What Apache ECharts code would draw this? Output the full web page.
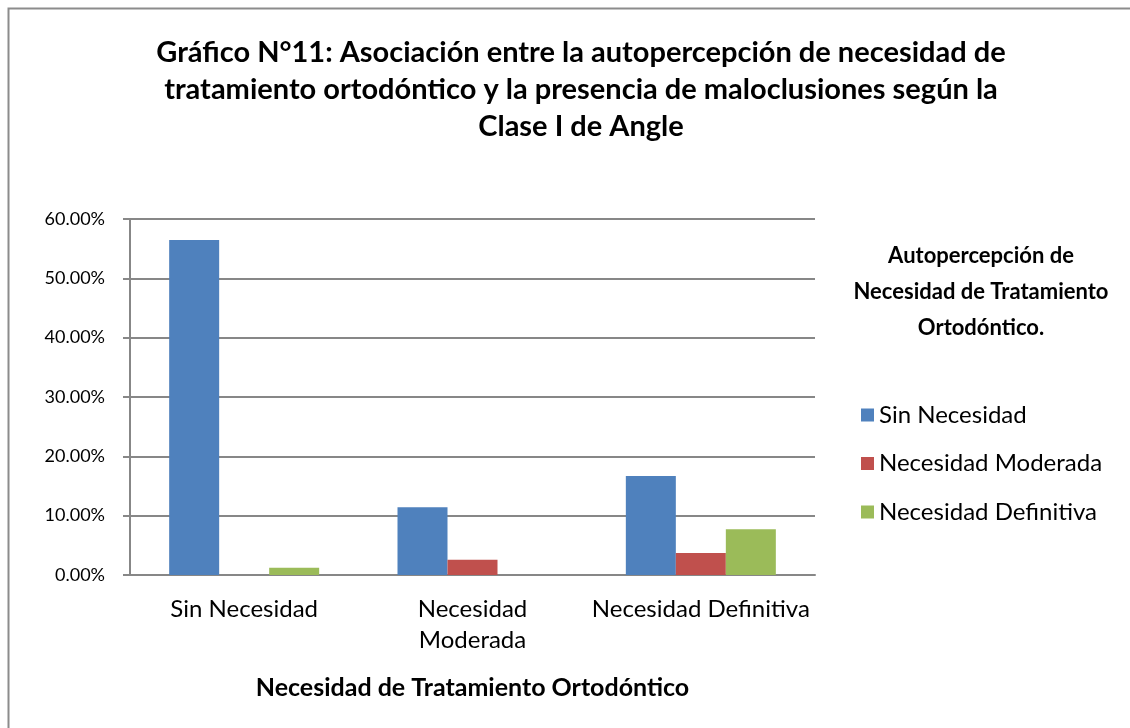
<!DOCTYPE html>
<html>
<head>
<meta charset="utf-8">
<script src="https://cdn.jsdelivr.net/npm/echarts@6/dist/echarts.min.js"></script>
<style>
  html, body { margin: 0; padding: 0; background: #fff; }
  #chart { width: 1130px; height: 728px; }
</style>
</head>
<body>
<div id="chart"></div>
<script>
  // categorias del eje x
  var categorias = ['Sin Necesidad', 'Necesidad Moderada', 'Necesidad Definitiva'];
  // series (autopercepcion)
  var sinNecesidad = [0.5646, 0.1142, 0.1670];
  var necModerada = [0, 0.0255, 0.0372];
  var necDefinitiva = [0.0123, 0, 0.0770];
  var yTicks = [0, 0.1, 0.2, 0.3, 0.4, 0.5, 0.6];

  var fuente = 'Lato';
  var gris = '#878787';

  var chart = echarts.init(document.getElementById('chart'));

  function barra(nombre, datos, color) {
    return {
      name: nombre,
      type: 'bar',
      data: datos,
      barWidth: 50,
      barGap: '0%',
      itemStyle: { color: color },
      animation: false
    };
  }

  chart.setOption({
    backgroundColor: '#fff',
    textStyle: { fontFamily: fuente },
    title: [{
      text: 'Gráfico N°11: Asociación entre la autopercepción de necesidad de\ntratamiento ortodóntico y la presencia de maloclusiones según la\nClase I de Angle',
      left: 576,
      top: 29,
      textAlign: 'center',
      textStyle: { fontFamily: fuente, fontWeight: 'bold', fontSize: 29, lineHeight: 37, color: '#000' }
    }, {
      text: 'Autopercepción de\nNecesidad de Tratamiento\nOrtodóntico.',
      left: 976,
      top: 233,
      textAlign: 'center',
      textStyle: { fontFamily: fuente, fontWeight: 'bold', fontSize: 22, lineHeight: 36, color: '#000' }
    }],
    graphic: [{
      type: 'rect',
      shape: { x: 8.5, y: 8.5, width: 1140, height: 740 },
      style: { fill: 'none', stroke: '#8c8c8c', lineWidth: 2 },
      silent: true
    }],
    legend: {
      orient: 'vertical',
      left: 856,
      top: 398,
      itemWidth: 13,
      itemHeight: 13,
      itemGap: 24.5,
      icon: 'rect',
      textStyle: { fontFamily: fuente, fontSize: 24, lineHeight: 24, color: '#000' },
      data: ['Sin Necesidad', 'Necesidad Moderada', 'Necesidad Definitiva']
    },
    grid: { left: 130, right: 315, top: 219, bottom: 153 },
    xAxis: {
      type: 'category',
      data: categorias,
      name: 'Necesidad de Tratamiento Ortodóntico',
      nameLocation: 'middle',
      nameGap: 100,
      nameTextStyle: { fontFamily: fuente, fontWeight: 'bold', fontSize: 25, color: '#000' },
      axisLine: { lineStyle: { color: gris, width: 2 } },
      axisTick: { show: false },
      axisLabel: {
        interval: 0,
        hideOverlap: false,
        fontFamily: fuente, fontSize: 24, color: '#000', margin: 19, lineHeight: 31,
        formatter: function (v) { return v === 'Necesidad Moderada' ? 'Necesidad\nModerada' : v; }
      }
    },
    yAxis: {
      type: 'value',
      min: yTicks[0],
      max: yTicks[yTicks.length - 1],
      interval: 0.1,
      axisLine: { show: true, lineStyle: { color: gris, width: 2 } },
      axisTick: { show: true, length: 7, lineStyle: { color: gris, width: 2 } },
      splitLine: { lineStyle: { color: gris, width: 2 } },
      axisLabel: {
        fontFamily: fuente, fontSize: 18, color: '#000', margin: 25,
        formatter: function (v) { return (v * 100).toFixed(2) + '%'; }
      }
    },
    series: [
      barra('Sin Necesidad', sinNecesidad, '#4F81BD'),
      barra('Necesidad Moderada', necModerada, '#C0504D'),
      barra('Necesidad Definitiva', necDefinitiva, '#9BBB59')
    ]
  });
</script>
</body>
</html>
